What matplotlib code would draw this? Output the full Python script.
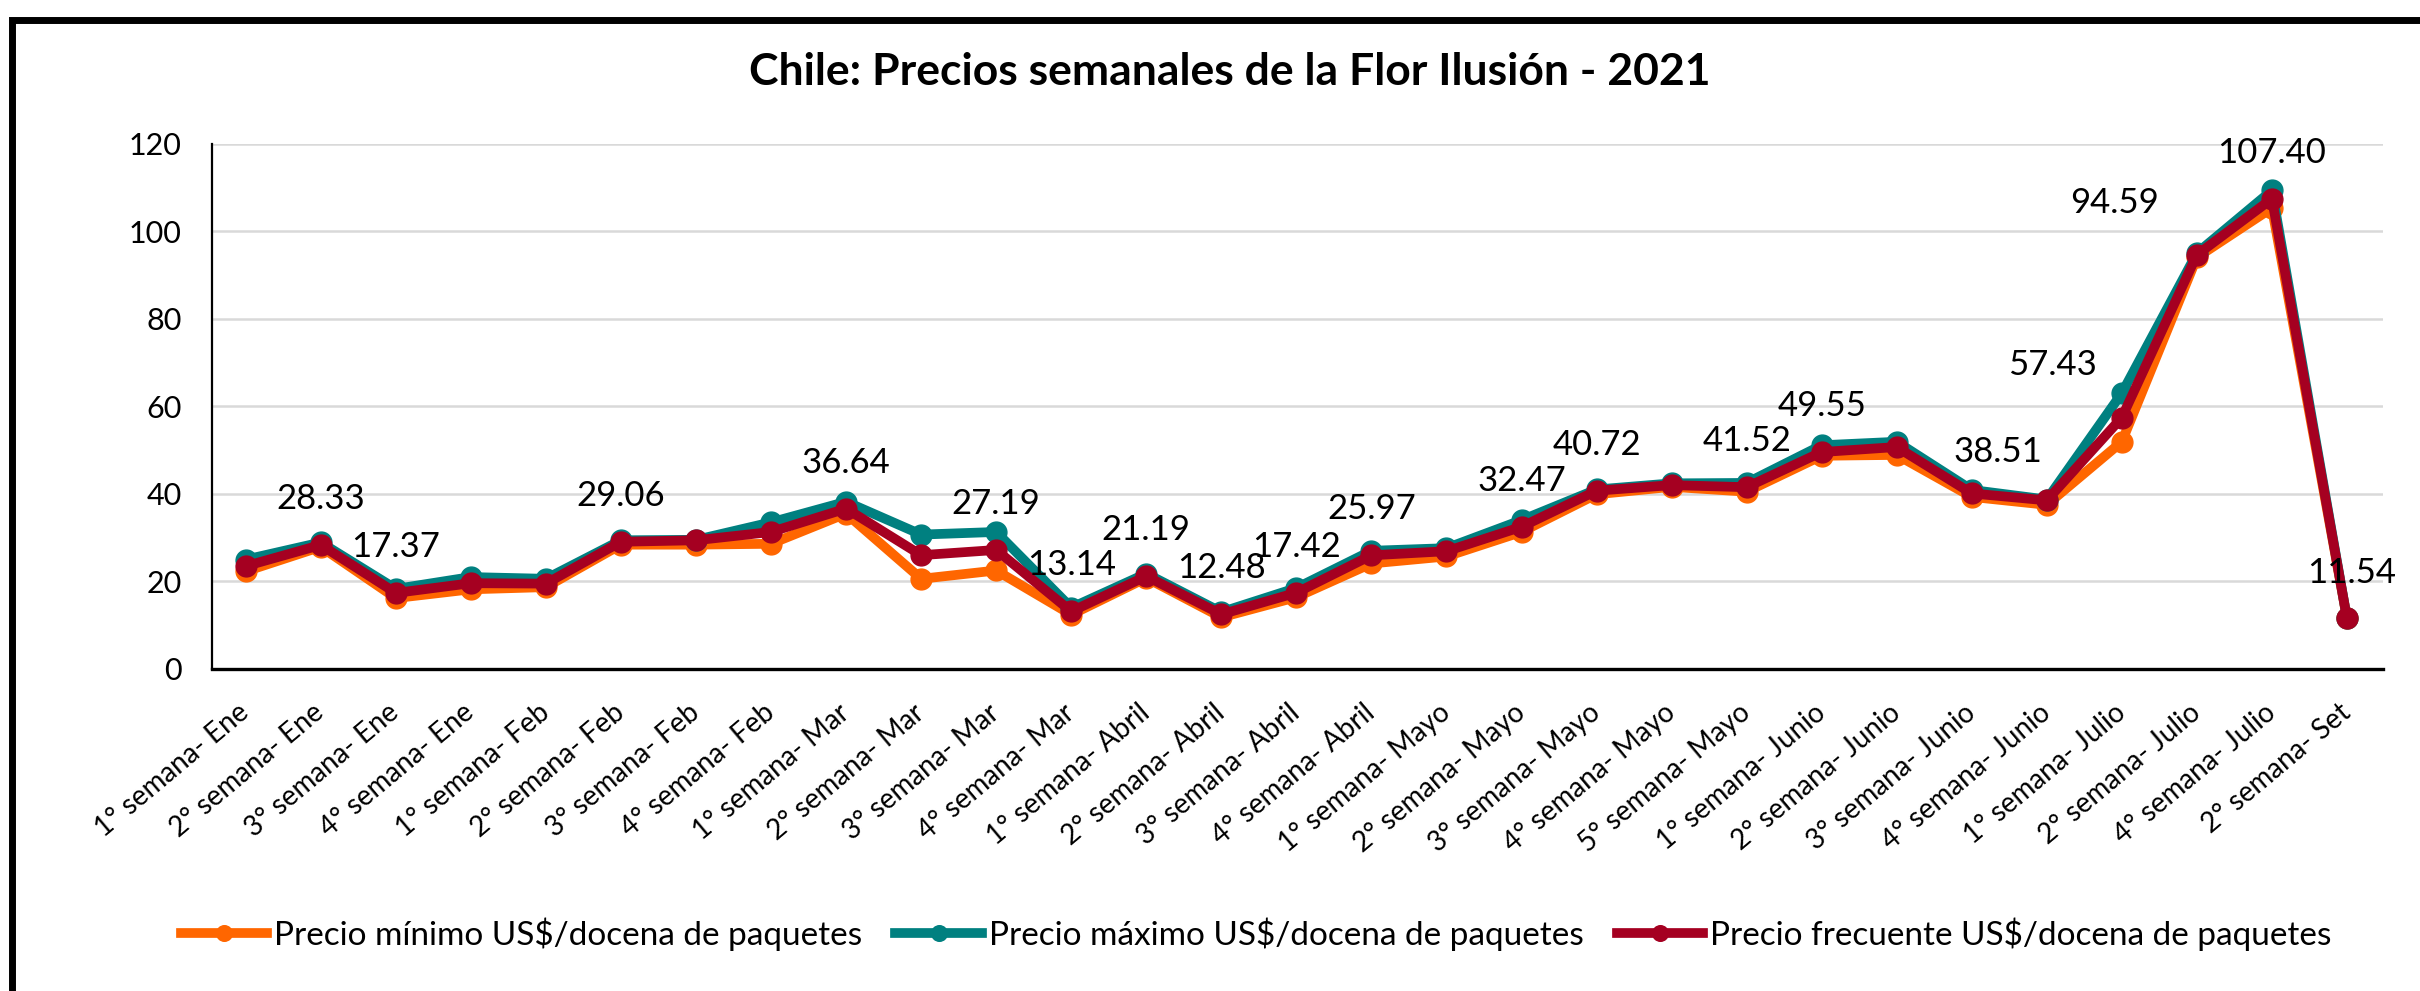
import matplotlib
matplotlib.use("Agg")
import matplotlib.pyplot as plt
from matplotlib.patches import Rectangle

plt.rcParams['font.family'] = ['Lato', 'DejaVu Sans']

categories = [
    "1° semana- Ene", "2° semana- Ene", "3° semana- Ene", "4° semana- Ene",
    "1° semana- Feb", "2° semana- Feb", "3° semana- Feb", "4° semana- Feb",
    "1° semana- Mar", "2° semana- Mar", "3° semana- Mar", "4° semana- Mar",
    "1° semana- Abril", "2° semana- Abril", "3° semana- Abril", "4° semana- Abril",
    "1° semana- Mayo", "2° semana- Mayo", "3° semana- Mayo", "4° semana- Mayo",
    "5° semana- Mayo", "1° semana- Junio", "2° semana- Junio", "3° semana- Junio",
    "4° semana- Junio", "1° semana- Julio", "2° semana- Julio", "4° semana- Julio",
    "2° semana- Set",
]

precio_min = [22.3, 27.9, 16.2, 18.2, 18.7, 28.4, 28.4, 28.6, 35.5, 20.6,
              22.5, 12.4, 20.8, 11.8, 16.4, 24.1, 25.7, 31.3, 39.9, 41.6,
              40.5, 48.7, 48.9, 39.3, 37.5, 51.9, 94.0, 105.3, 11.54]
precio_max = [25.0, 28.9, 18.3, 21.0, 20.6, 29.4, 29.5, 33.5, 38.2, 30.7,
              31.3, 14.0, 21.8, 13.0, 18.5, 27.0, 27.6, 34.0, 41.0, 42.4,
              42.5, 51.1, 51.9, 40.9, 38.7, 63.0, 95.0, 109.3, 11.54]
precio_frec = [23.5, 28.33, 17.37, 19.6, 19.5, 29.06, 29.4, 31.3, 36.64, 26.0,
               27.19, 13.14, 21.19, 12.48, 17.42, 25.97, 26.9, 32.47, 40.72, 42.0,
               41.52, 49.55, 50.7, 40.1, 38.51, 57.43, 94.59, 107.40, 11.54]

# indices of the "frecuente" series that carry a data label
labelled = [1, 2, 5, 8, 10, 11, 12, 13, 14, 15, 17, 18, 20, 21, 24, 25, 26, 27, 28]
# label offsets (pixels) relative to the point: default above
label_shift = {24: (-49, 48), 25: (-69, 53), 26: (-82, 52), 28: (5, 45)}

series_names = [
    "Precio mínimo US$/docena de paquetes",
    "Precio máximo US$/docena de paquetes",
    "Precio frecuente US$/docena de paquetes",
]
colors = ["#FF6600", "#008080", "#A50021"]

W, H = 2420, 991
fig = plt.figure(figsize=(W / 100, H / 100), dpi=100)
ax = fig.add_axes([212 / W, 1 - 669 / H, (2383 - 212) / W, (669 - 143.6) / H])

x = list(range(len(categories)))
for vals, name, col, z in zip([precio_min, precio_max, precio_frec], series_names, colors, [3, 4, 5]):
    ax.plot(x, vals, color=col, lw=7, marker='o', markersize=15,
            markeredgecolor=col, label=name, zorder=z, solid_joinstyle='round')

for i in labelled:
    dx, dy = label_shift.get(i, (0, 46))
    ax.annotate(f"{precio_frec[i]:.2f}", (i, precio_frec[i]), xytext=(dx, dy),
                textcoords='offset pixels', ha='center', va='center',
                fontsize=25, color='black', zorder=6)

ax.set_xlim(-0.45, len(categories) - 1 + 0.48)
ax.set_ylim(0, 120)
ax.set_yticks(range(0, 121, 20))
ax.yaxis.grid(True, color='#D9D9D9', lw=1.8)
ax.set_axisbelow(True)
ax.tick_params(axis='y', length=0, labelsize=22, pad=22)
ax.set_xticks(x)
ax.set_xticklabels(categories, rotation=40, ha='right', va='center',
                   rotation_mode='anchor', fontsize=20)
ax.tick_params(axis='x', length=0, pad=29)
for s in ['top', 'right']:
    ax.spines[s].set_visible(False)
ax.spines['left'].set_linewidth(1.6)
ax.spines['bottom'].set_linewidth(2.4)

fig.text(1230 / W, 1 - 72 / H, "Chile: Precios semanales de la Flor Ilusión - 2021",
         ha='center', va='center', fontsize=32, fontweight='bold')

handles, labels = ax.get_legend_handles_labels()
leg = fig.legend(handles, labels, loc='center', bbox_to_anchor=(1256 / W, 1 - 934 / H),
                 ncol=3, frameon=False, fontsize=24, handlelength=2.6,
                 handletextpad=0.2, columnspacing=1.0, markerscale=0.75)

fig.add_artist(Rectangle((12 / W, -0.5), 2.0, 0.5 + 1 - 20 / H, transform=fig.transFigure,
                         fill=False, lw=5, edgecolor='black'))

fig.savefig("out.png", dpi=100)
